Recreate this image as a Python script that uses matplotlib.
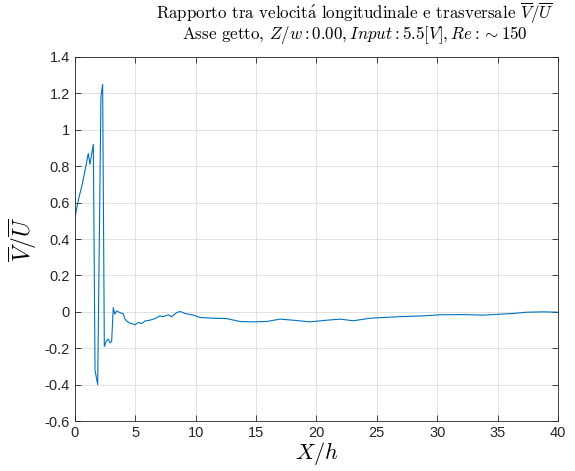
import matplotlib
matplotlib.use("Agg")
import matplotlib.pyplot as plt

plt.rcParams['mathtext.fontset'] = 'cm'

# Downstream position X/h and velocity ratio V/U along the jet axis
x_h = [0.0, 0.3, 0.6, 0.9, 1.1, 1.24, 1.52, 1.66, 1.88, 2.15, 2.29, 2.43, 2.6, 2.76,
       2.9, 3.04, 3.17, 3.3, 3.45, 3.59, 3.75, 3.99, 4.14, 4.28, 4.55, 4.69, 4.97,
       5.25, 5.53, 5.8, 6.2, 6.63, 7.04, 7.3, 7.73, 8.0, 8.42, 8.7, 9.11, 9.8,
       10.35, 11.45, 12.55, 13.66, 14.77, 15.87, 16.98, 18.08, 19.46, 20.84,
       21.95, 23.05, 24.43, 26.64, 28.85, 30.23, 32.16, 33.8, 35.2, 36.3, 37.4,
       38.8, 40.0]
v_u = [0.52, 0.62, 0.70, 0.80, 0.87, 0.81, 0.92, -0.32, -0.40, 1.18, 1.25, -0.19,
       -0.16, -0.15, -0.17, -0.16, 0.024, -0.013, 0.005, 0.0, -0.005, -0.01,
       -0.04, -0.05, -0.062, -0.064, -0.071, -0.058, -0.064, -0.05, -0.046,
       -0.037, -0.022, -0.027, -0.016, -0.027, -0.004, 0.002, -0.009, -0.018,
       -0.031, -0.035, -0.037, -0.053, -0.055, -0.053, -0.040, -0.046, -0.055,
       -0.046, -0.040, -0.049, -0.035, -0.027, -0.022, -0.016, -0.015, -0.018,
       -0.013, -0.009, -0.002, 0.0, -0.002]

x_ticks = [0, 5, 10, 15, 20, 25, 30, 35, 40]
y_ticks = [-0.6, -0.4, -0.2, 0, 0.2, 0.4, 0.6, 0.8, 1, 1.2, 1.4]
y_tick_labels = ['-0.6', '-0.4', '-0.2', '0', '0.2', '0.4', '0.6', '0.8', '1', '1.2', '1.4']

fig = plt.figure(figsize=(5.75, 4.71), dpi=100)
ax = fig.add_axes([0.1304, 0.106, 0.84, 0.773])

ax.plot(x_h, v_u, color='#0072BD', linewidth=0.8)

ax.set_xlim(0, 40)
ax.set_ylim(-0.6, 1.4)
ax.set_xticks(x_ticks)
ax.set_yticks(y_ticks)
ax.set_yticklabels(y_tick_labels)
ax.grid(True, color='#dcdcdc', linewidth=0.6)
ax.set_axisbelow(True)
ax.tick_params(direction='in', top=True, right=True, length=4, width=0.6,
               colors='#262626', labelsize=10.5)
for lab in ax.get_xticklabels() + ax.get_yticklabels():
    lab.set_fontfamily('Liberation Sans')
for sp in ax.spines.values():
    sp.set_color('#262626')
    sp.set_linewidth(0.6)

ax.set_xlabel(r'$X/h$', fontsize=16, labelpad=0)
ax.set_ylabel(r'$\overline{V}/\overline{U}$', fontsize=17, labelpad=4)

title_1 = r"Rapporto tra velocit$\mathrm{\acute{a}}$ longitudinale e trasversale $\overline{V}/\overline{U}$"
title_2 = r"Asse getto, $Z/w: 0.00, Input: 5.5[V], Re: \sim 150$"
fig.text(0.617, 0.971, title_1, ha='center', va='center', fontsize=12.2, family='cmr10')
fig.text(0.617, 0.925, title_2, ha='center', va='center', fontsize=12.2, family='cmr10')

fig.savefig('out.png', dpi=100)
